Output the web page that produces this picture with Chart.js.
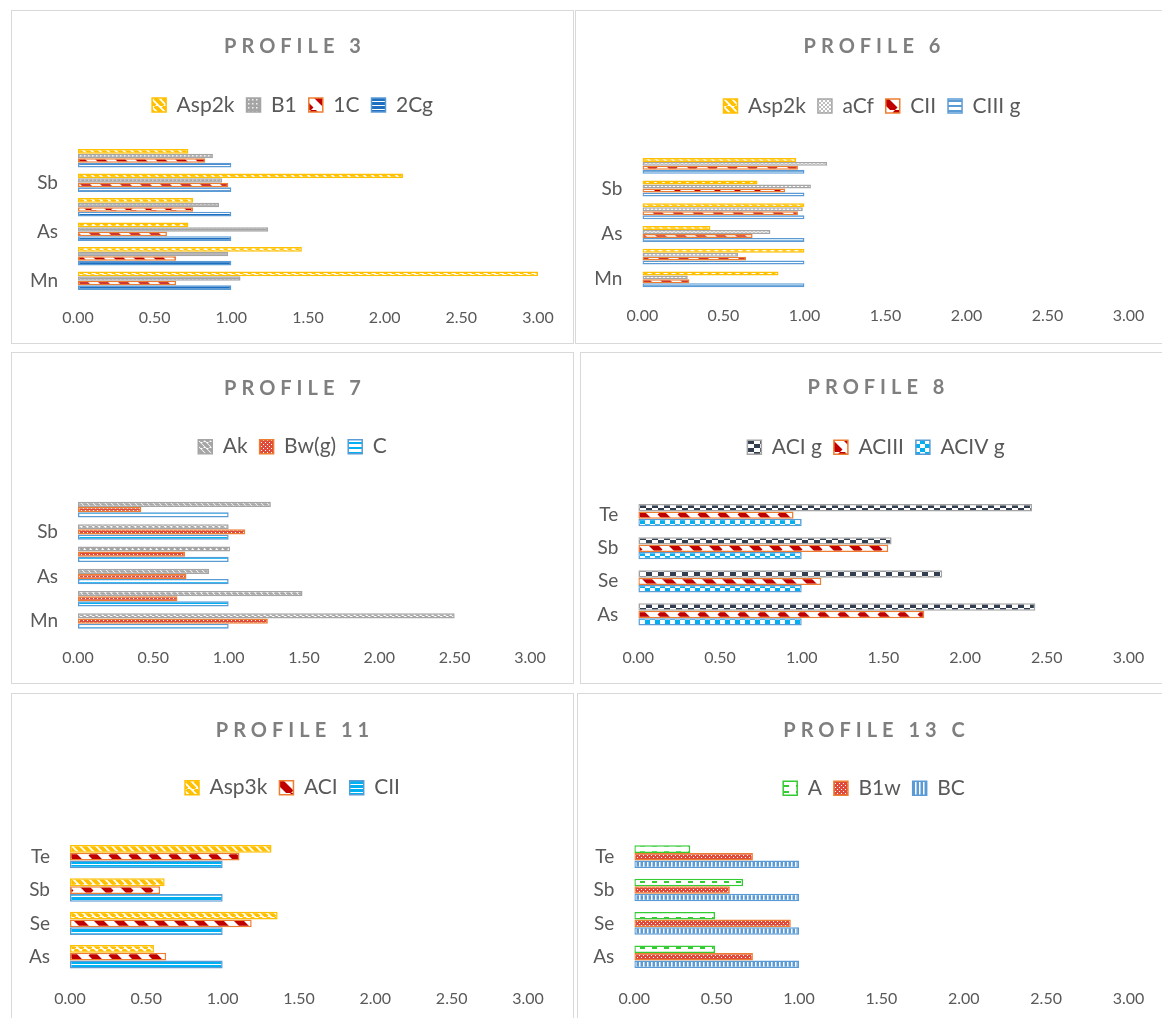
<!DOCTYPE html>
<html>
<head>
<meta charset="utf-8">
<script src="https://cdn.jsdelivr.net/npm/chart.js@4.4.1/dist/chart.umd.min.js"></script>
<style>
    html, body { margin: 0; padding: 0; background: #fff; }
    body { width: 1162px; height: 1018px; overflow: hidden; position: relative; }
    .frame { position: absolute; border: 1px solid #d9d9d9; box-sizing: border-box; }
    canvas { position: absolute; }
</style>
</head>
<body>
<script>
// ---- data (each list runs top to bottom, as the bars sit in the picture) ----
const p3Labels = ['Te', 'Sb', 'Se', 'As', 'Cu', 'Mn'];
const p3Asp2k = [0.72, 2.12, 0.75, 0.72, 1.46, 3.00];
const p3B1 = [0.88, 0.94, 0.92, 1.24, 0.98, 1.06];
const p3C1 = [0.83, 0.98, 0.75, 0.58, 0.64, 0.64];
const p3C2g = [1.00, 1.00, 1.00, 1.00, 1.00, 1.00];

const p6Labels = ['Te', 'Sb', 'Se', 'As', 'Cu', 'Mn'];
const p6Asp2k = [0.95, 0.71, 1.00, 0.42, 1.00, 0.84];
const p6aCf = [1.14, 1.04, 0.99, 0.79, 0.59, 0.28];
const p6CII = [0.96, 0.88, 0.96, 0.68, 0.64, 0.29];
const p6CIIIg = [1.00, 1.00, 1.00, 1.00, 1.00, 1.00];

const p7Labels = ['Te', 'Sb', 'Se', 'As', 'Cu', 'Mn'];
const p7Ak = [1.28, 1.00, 1.01, 0.87, 1.49, 2.50];
const p7Bwg = [0.42, 1.11, 0.71, 0.72, 0.66, 1.26];
const p7C = [1.00, 1.00, 1.00, 1.00, 1.00, 1.00];

const p8Labels = ['Te', 'Sb', 'Se', 'As'];
const p8ACIg = [2.41, 1.55, 1.86, 2.43];
const p8ACIII = [0.95, 1.53, 1.12, 1.75];
const p8ACIVg = [1.00, 1.00, 1.00, 1.00];

const p11Labels = ['Te', 'Sb', 'Se', 'As'];
const p11Asp3k = [1.32, 0.62, 1.36, 0.55];
const p11ACI = [1.11, 0.59, 1.19, 0.63];
const p11CII = [1.00, 1.00, 1.00, 1.00];

const p13Labels = ['Te', 'Sb', 'Se', 'As'];
const p13A = [0.34, 0.66, 0.49, 0.49];
const p13B1w = [0.72, 0.58, 0.95, 0.72];
const p13BC = [1.00, 1.00, 1.00, 1.00];

const xTicks = [0, 0.5, 1, 1.5, 2, 2.5, 3];

// ---- look ----
const FONT = 'Lato, "Open Sans", sans-serif';
const TEXT = '#595959';
const TITLE_SIZE = 20, TITLE_LH = 24, TITLE_SPACING = 5;
const LEG_SIZE = 21, LEG_PAD = 12;
const TICK_SIZE = 16, TICK_LH = 19.2;
const CAT_SIZE = 19;

// small fill patterns like the Excel ones
function makePattern(w, h, draw) {
    const c = document.createElement('canvas');
    c.width = w;
    c.height = h;
    const g = c.getContext('2d');
    draw(g, w, h);
    return g.createPattern(c, 'repeat');
}

function diagPattern(size, lw, fg, bg) {
    return makePattern(size, size, (g, w, h) => {
        g.fillStyle = bg;
        g.fillRect(0, 0, w, h);
        g.strokeStyle = fg;
        g.lineWidth = lw;
        for (let k = -1; k <= 1; k++) {
            g.beginPath();
            g.moveTo(k * w, 0);
            g.lineTo(k * w + w, h);
            g.stroke();
        }
    });
}

function hStripePattern(h, on, fg, bg) {
    return makePattern(4, h, (g, w) => {
        g.fillStyle = bg;
        g.fillRect(0, 0, w, h);
        g.fillStyle = fg;
        g.fillRect(0, 0, w, on);
    });
}

function checkerPattern(cw, ch, fg, bg) {
    return makePattern(cw * 2, ch * 2, (g, w, h) => {
        g.fillStyle = bg;
        g.fillRect(0, 0, w, h);
        g.fillStyle = fg;
        g.fillRect(0, 0, cw, ch);
        g.fillRect(cw, ch, cw, ch);
    });
}

const pat = {
    yellow: diagPattern(8, 4, '#FFC000', '#FFFFFF'),
    grayDots: makePattern(4, 4, (g) => {
        g.fillStyle = '#A5A5A5'; g.fillRect(0, 0, 4, 4);
        g.fillStyle = '#F2F2F2'; g.fillRect(1, 1, 1.5, 1.5);
    }),
    redDiag: diagPattern(20, 7, '#C00000', '#FFFFFF'),
    blueDark: hStripePattern(4, 3, '#1F6FC0', '#FFFFFF'),
    grayCheck: checkerPattern(2, 2, '#BFBFBF', '#FFFFFF'),
    blueMid: hStripePattern(5, 2, '#5B9BD5', '#FFFFFF'),
    grayDiag: diagPattern(6, 3.5, '#A5A5A5', '#FFFFFF'),
    redDots: makePattern(4, 4, (g) => {
        g.fillStyle = '#E04A3A'; g.fillRect(0, 0, 4, 4);
        g.fillStyle = '#FFFFFF'; g.fillRect(0, 0, 1, 1); g.fillRect(2, 2, 1, 1);
    }),
    cyanThin: hStripePattern(5, 2, '#00B0F0', '#FFFFFF'),
    cyanThick: hStripePattern(4, 3, '#00B0F0', '#FFFFFF'),
    navyCheck: checkerPattern(6, 4, '#333F50', '#FFFFFF'),
    cyanCheck: checkerPattern(5, 4, '#00B0F0', '#FFFFFF'),
    green: makePattern(12, 6, (g) => {
        g.fillStyle = '#FFFFFF'; g.fillRect(0, 0, 12, 6);
        g.fillStyle = '#33CC33'; g.fillRect(3, 2, 5, 2);
    }),
    blueV: makePattern(4, 4, (g) => {
        g.fillStyle = '#5B9BD5'; g.fillRect(0, 0, 4, 4);
        g.fillStyle = '#FFFFFF'; g.fillRect(2, 0, 1.5, 4);
    })
};

// stretches the legend box, centres title + legend on the whole panel
// and spaces the title letters
function panelPlugin(legendH) {
    return {
        id: 'panelLayout',
        beforeLayout(chart) {
            const legend = chart.legend;
            if (legend && !legend._stretched) {
                const fit = legend.fit;
                legend.fit = function () {
                    fit.call(this);
                    this.height = legendH;
                };
                legend._stretched = true;
            }
            const title = chart.titleBlock;
            if (title && !title._spaced) {
                const draw = title.draw;
                title.draw = function () {
                    const ctx = this.ctx;
                    ctx.save();
                    ctx.letterSpacing = TITLE_SPACING + 'px';
                    ctx.translate(TITLE_SPACING / 2, 0);
                    draw.call(this);
                    ctx.restore();
                };
                title._spaced = true;
            }
        },
        afterLayout(chart) {
            [chart.legend, chart.titleBlock].forEach(box => {
                if (!box) return;
                box.left = 0;
                box.right = chart.width;
                box.width = chart.width;
            });
        }
    };
}

function makeChart(cfg) {
    const p = cfg.panel;
    const frame = document.createElement('div');
    frame.className = 'frame';
    frame.style.cssText = `left:${p.x}px;top:${p.y}px;width:${p.w}px;height:${p.h}px;`;
    document.body.appendChild(frame);

    const canvas = document.createElement('canvas');
    canvas.width = p.w;
    canvas.height = p.h;
    canvas.style.cssText = `left:${p.x}px;top:${p.y}px;width:${p.w}px;height:${p.h}px;`;
    document.body.appendChild(canvas);

    const titleTop = cfg.titleY - p.y - TITLE_LH / 2;
    const legendTop = cfg.legendY - p.y - LEG_PAD - LEG_SIZE / 2;
    const legendH = cfg.plot.t - p.y - legendTop;
    const yWidth = cfg.plot.l - p.x;
    const xHeight = p.h - (cfg.plot.b - p.y);

    return new Chart(canvas, {
        type: 'bar',
        data: {
            labels: cfg.labels,
            datasets: cfg.series.map(s => ({
                label: s.label,
                data: s.data,
                backgroundColor: s.fill,
                borderColor: s.border,
                borderWidth: 1.5,
                borderSkipped: false,
                barPercentage: 1,
                categoryPercentage: cfg.catPct
            }))
        },
        options: {
            indexAxis: 'y',
            responsive: false,
            animation: false,
            events: [],
            layout: {
                padding: { left: 0, top: 0, bottom: 0, right: p.w - (cfg.plot.r - p.x) }
            },
            plugins: {
                title: {
                    display: true,
                    text: cfg.title,
                    color: '#7F7F7F',
                    font: { family: FONT, size: TITLE_SIZE, weight: 'bold', lineHeight: TITLE_LH / TITLE_SIZE },
                    padding: { top: titleTop, bottom: legendTop - titleTop - TITLE_LH }
                },
                legend: {
                    display: true,
                    position: 'top',
                    labels: {
                        color: TEXT,
                        font: { family: FONT, size: LEG_SIZE },
                        boxWidth: 14,
                        boxHeight: 14,
                        padding: LEG_PAD
                    }
                },
                tooltip: { enabled: false }
            },
            scales: {
                x: {
                    min: 0,
                    max: 3,
                    afterBuildTicks: (scale) => { scale.ticks = xTicks.map(v => ({ value: v })); },
                    afterFit: (scale) => { scale.height = xHeight; },
                    grid: { display: false, drawTicks: false },
                    border: { display: false },
                    ticks: {
                        color: TEXT,
                        font: { family: FONT, size: TICK_SIZE },
                        padding: cfg.tickY - cfg.plot.b - TICK_LH / 2,
                        maxRotation: 0,
                        callback: (v) => Number(v).toFixed(2)
                    }
                },
                y: {
                    afterFit: (scale) => { scale.width = yWidth; },
                    grid: { display: false, drawTicks: false },
                    border: { display: false },
                    ticks: {
                        color: TEXT,
                        font: { family: FONT, size: CAT_SIZE },
                        padding: 20,
                        autoSkip: false,
                        callback: function (v, i) {
                            if (cfg.skipEvery && i % 2 === 0) return '';
                            return this.getLabelForValue(v);
                        }
                    }
                }
            }
        },
        plugins: [panelPlugin(legendH)]
    });
}

makeChart({
    title: 'PROFILE 3',
    panel: { x: 11, y: 10, w: 563, h: 334 },
    plot: { l: 78, r: 538, t: 146, b: 293 },
    titleY: 46.7, legendY: 105, tickY: 318,
    labels: p3Labels, catPct: 0.75, skipEvery: true,
    series: [
        { label: 'Asp2k', data: p3Asp2k, fill: pat.yellow, border: '#FFC000' },
        { label: 'B1', data: p3B1, fill: pat.grayDots, border: '#A5A5A5' },
        { label: '1C', data: p3C1, fill: pat.redDiag, border: '#ED7D31' },
        { label: '2Cg', data: p3C2g, fill: pat.blueDark, border: '#5B9BD5' }
    ]
});

makeChart({
    title: 'PROFILE 6',
    panel: { x: 575, y: 10, w: 594, h: 334 },
    plot: { l: 642.4, r: 1128.5, t: 154.5, b: 290.7 },
    titleY: 46.7, legendY: 106, tickY: 316,
    labels: p6Labels, catPct: 0.70, skipEvery: true,
    series: [
        { label: 'Asp2k', data: p6Asp2k, fill: pat.yellow, border: '#FFC000' },
        { label: 'aCf', data: p6aCf, fill: pat.grayCheck, border: '#A5A5A5' },
        { label: 'CII', data: p6CII, fill: pat.redDiag, border: '#ED7D31' },
        { label: 'CIII g', data: p6CIIIg, fill: pat.blueMid, border: '#5B9BD5' }
    ]
});

makeChart({
    title: 'PROFILE 7',
    panel: { x: 11, y: 352, w: 563, h: 332 },
    plot: { l: 78, r: 530, t: 498.5, b: 632.2 },
    titleY: 388.3, legendY: 446.7, tickY: 657.5,
    labels: p7Labels, catPct: 0.70, skipEvery: true,
    series: [
        { label: 'Ak', data: p7Ak, fill: pat.grayDiag, border: '#A5A5A5' },
        { label: 'Bw(g)', data: p7Bwg, fill: pat.redDots, border: '#ED7D31' },
        { label: 'C', data: p7C, fill: pat.cyanThin, border: '#5B9BD5' }
    ]
});

makeChart({
    title: 'PROFILE 8',
    panel: { x: 580, y: 352, w: 592, h: 332 },
    plot: { l: 638.3, r: 1128.5, t: 498.6, b: 631 },
    titleY: 388, legendY: 447.3, tickY: 657.5,
    labels: p8Labels, catPct: 0.67, skipEvery: false,
    series: [
        { label: 'ACI g', data: p8ACIg, fill: pat.navyCheck, border: '#A5A5A5' },
        { label: 'ACIII', data: p8ACIII, fill: pat.redDiag, border: '#ED7D31' },
        { label: 'ACIV g', data: p8ACIVg, fill: pat.cyanCheck, border: '#5B9BD5' }
    ]
});

makeChart({
    title: 'PROFILE 11',
    panel: { x: 11, y: 693, w: 563, h: 340 },
    plot: { l: 70, r: 528, t: 840, b: 973.4 },
    titleY: 730.7, legendY: 787.7, tickY: 999,
    labels: p11Labels, catPct: 0.70, skipEvery: false,
    series: [
        { label: 'Asp3k', data: p11Asp3k, fill: pat.yellow, border: '#FFC000' },
        { label: 'ACI', data: p11ACI, fill: pat.redDiag, border: '#ED7D31' },
        { label: 'CII', data: p11CII, fill: pat.cyanThick, border: '#5B9BD5' }
    ]
});

makeChart({
    title: 'PROFILE 13 C',
    panel: { x: 577, y: 693, w: 594, h: 340 },
    plot: { l: 634.3, r: 1128.5, t: 840, b: 973.4 },
    titleY: 730.7, legendY: 788.3, tickY: 999,
    labels: p13Labels, catPct: 0.68, skipEvery: false,
    series: [
        { label: 'A', data: p13A, fill: pat.green, border: '#33CC33' },
        { label: 'B1w', data: p13B1w, fill: pat.redDots, border: '#ED7D31' },
        { label: 'BC', data: p13BC, fill: pat.blueV, border: '#5B9BD5' }
    ]
});
</script>
</body>
</html>
